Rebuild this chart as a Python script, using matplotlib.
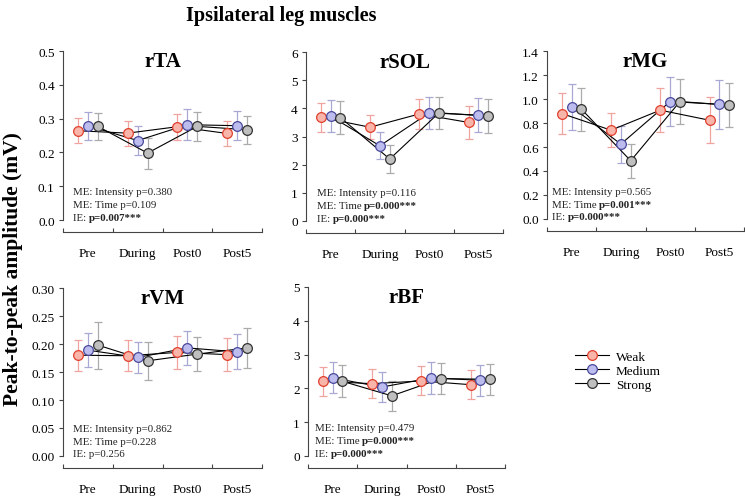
import numpy as np
import matplotlib
matplotlib.use("Agg")
import matplotlib.pyplot as plt
from matplotlib.lines import Line2D

plt.rcParams["font.family"] = ["Liberation Serif", "DejaVu Serif"]

# ============================================================
# Data
# ============================================================

phases = ["Pre", "During", "Post0", "Post5"]
groups = ["Weak", "Medium", "Strong"]

# rTA
rta_mean = {"Weak":   [0.264, 0.257, 0.276, 0.256],
            "Medium": [0.279, 0.235, 0.282, 0.279],
            "Strong": [0.277, 0.198, 0.277, 0.267]}
rta_sd   = {"Weak":   [0.037, 0.037, 0.038, 0.038],
            "Medium": [0.041, 0.042, 0.046, 0.043],
            "Strong": [0.041, 0.046, 0.042, 0.041]}

# rSOL
rsol_mean = {"Weak":   [3.68, 3.33, 3.80, 3.50],
             "Medium": [3.72, 2.67, 3.84, 3.76],
             "Strong": [3.67, 2.20, 3.84, 3.72]}
rsol_sd   = {"Weak":   [0.52, 0.43, 0.53, 0.60],
             "Medium": [0.56, 0.48, 0.58, 0.60],
             "Strong": [0.58, 0.49, 0.57, 0.60]}

# rMG
rmg_mean = {"Weak":   [0.879, 0.740, 0.907, 0.823],
            "Medium": [0.934, 0.624, 0.979, 0.956],
            "Strong": [0.915, 0.485, 0.979, 0.948]}
rmg_sd   = {"Weak":   [0.173, 0.140, 0.183, 0.190],
            "Medium": [0.190, 0.155, 0.208, 0.205],
            "Strong": [0.180, 0.140, 0.185, 0.185]}

# rVM
rvm_mean = {"Weak":   [0.180, 0.179, 0.185, 0.181],
            "Medium": [0.189, 0.176, 0.193, 0.186],
            "Strong": [0.198, 0.170, 0.182, 0.193]}
rvm_sd   = {"Weak":   [0.028, 0.028, 0.030, 0.030],
            "Medium": [0.030, 0.028, 0.030, 0.031],
            "Strong": [0.042, 0.034, 0.030, 0.036]}

# rBF
rbf_mean = {"Weak":   [2.21, 2.14, 2.22, 2.11],
            "Medium": [2.31, 2.04, 2.31, 2.24],
            "Strong": [2.21, 1.78, 2.29, 2.27]}
rbf_sd   = {"Weak":   [0.43, 0.43, 0.43, 0.42],
            "Medium": [0.46, 0.45, 0.47, 0.46],
            "Strong": [0.47, 0.44, 0.47, 0.46]}

# stats text: list of lines, each line = (normal part, bold part)
rta_stats  = [("ME: Intensity p=0.380", ""), ("ME: Time p=0.109", ""), ("IE: ", "p=0.007***")]
rsol_stats = [("ME: Intensity p=0.116", ""), ("ME: Time ", "p=0.000***"), ("IE: ", "p=0.000***")]
rmg_stats  = [("ME: Intensity p=0.565", ""), ("ME: Time ", "p=0.001***"), ("IE: ", "p=0.000***")]
rvm_stats  = [("ME: Intensity p=0.862", ""), ("ME: Time p=0.228", ""), ("IE: p=0.256", "")]
rbf_stats  = [("ME: Intensity p=0.479", ""), ("ME: Time ", "p=0.000***"), ("IE: ", "p=0.000***")]

# ============================================================
# Styling
# ============================================================

face  = {"Weak": "#f9b5a9", "Medium": "#bcbcee", "Strong": "#bfbfbf"}
edge  = {"Weak": "#e0402e", "Medium": "#4a4a9c", "Strong": "#333333"}
ebcol = {"Weak": "#f0a4a0", "Medium": "#a8a8d4", "Strong": "#ababab"}
offset = {"Weak": -0.2, "Medium": 0.0, "Strong": 0.2}

AX_COL = "#444444"

# panel: name, means, sds, yticks, fmt, stats, rect(px: left, top, right, bottom), text x
panels = [
    ("rTA",  rta_mean,  rta_sd,  np.arange(0, 0.51, 0.1),  "{:.1f}", rta_stats,  (63, 52, 262, 221),  0.05),
    ("rSOL", rsol_mean, rsol_sd, np.arange(0, 6.1, 1),     "{:.0f}", rsol_stats, (306, 53, 503, 222), 0.055),
    ("rMG",  rmg_mean,  rmg_sd,  np.arange(0, 1.41, 0.2),  "{:.1f}", rmg_stats,  (547, 52, 744, 220), 0.025),
    ("rVM",  rvm_mean,  rvm_sd,  np.arange(0, 0.301, 0.05), "{:.2f}", rvm_stats, (63, 289, 262, 457), 0.05),
    ("rBF",  rbf_mean,  rbf_sd,  np.arange(0, 5.1, 1),     "{:.0f}", rbf_stats,  (308, 288, 505, 457), 0.035),
]

W, H = 745, 502
fig = plt.figure(figsize=(W / 100, H / 100), dpi=100)

x = np.arange(len(phases))

for name, means, sds, yticks, fmt, stats, (l, t, r, b), tx in panels:
    ax = fig.add_axes([l / W, (H - b) / H, (r - l) / W, (b - t) / H])

    for g in groups:
        xs = x + offset[g]
        ax.errorbar(xs, means[g], yerr=sds[g], fmt="none", ecolor=ebcol[g],
                    elinewidth=0.9, capsize=3, capthick=0.9, zorder=1)
        ax.plot(xs, means[g], color="black", linewidth=0.8, zorder=2)
    for g in groups:
        xs = x + offset[g]
        ax.plot(xs, means[g], linestyle="none", marker="o", markersize=7,
                markerfacecolor=face[g], markeredgecolor=edge[g],
                markeredgewidth=0.9, zorder=3)

    ax.set_xlim(-0.5, len(phases) - 0.5)
    ax.set_ylim(yticks[0], yticks[-1])
    ax.set_yticks(yticks)
    ax.set_yticklabels([fmt.format(v) for v in yticks])

    # boundaries as major ticks, labels on minor ticks at category centres
    ax.set_xticks(np.arange(-0.5, len(phases), 1.0))
    ax.set_xticklabels([])
    ax.set_xticks(x, minor=True)
    ax.set_xticklabels(phases, minor=True)
    ax.tick_params(axis="x", which="major", direction="in", length=3,
                   color=AX_COL, width=0.8)
    ax.tick_params(axis="x", which="minor", length=0, pad=11, labelsize=9.5)
    ax.tick_params(axis="y", direction="out", length=3, color=AX_COL,
                   width=0.8, labelsize=9.5, pad=3)

    for s in ("top", "right"):
        ax.spines[s].set_visible(False)
    ax.spines["bottom"].set_position(("outward", 8.6))
    for s in ("left", "bottom"):
        ax.spines[s].set_color(AX_COL)
        ax.spines[s].set_linewidth(0.8)

    ax.text(0.5, 0.94, name, transform=ax.transAxes, ha="center", va="center",
            fontsize=15, fontweight="bold")

    # ── stats annotation ──
    for i, (normal, bold) in enumerate(stats):
        ty = 0.166 - i * 0.077
        txt = ax.text(tx, ty, normal, transform=ax.transAxes, fontsize=7.8,
                      ha="left", va="center", color="#222222")
        if bold:
            ax.annotate(bold, xy=(1, 0), xycoords=txt, ha="left", va="bottom",
                        fontsize=7.8, fontweight="bold", color="#222222")

fig.text(0.377, 0.968, "Ipsilateral leg muscles", ha="center", va="center",
         fontsize=14.5, fontweight="bold")
fig.text(0.017, 0.464, "Peak-to-peak amplitude (mV)", ha="center", va="center",
         rotation=90, fontsize=15.5, fontweight="bold")

# ── Legend ──
handles = [Line2D([0], [0], color="black", linewidth=0.8, marker="o",
                  markersize=7, markerfacecolor=face[g], markeredgecolor=edge[g],
                  markeredgewidth=0.9, label=g) for g in groups]
fig.legend(handles=handles, loc="upper left", bbox_to_anchor=(0.772, 0.30),
           frameon=False, fontsize=9.5, handlelength=2.6, borderpad=0,
           borderaxespad=0, labelspacing=0.15, handletextpad=0.5)

fig.savefig("out.png", dpi=100)
